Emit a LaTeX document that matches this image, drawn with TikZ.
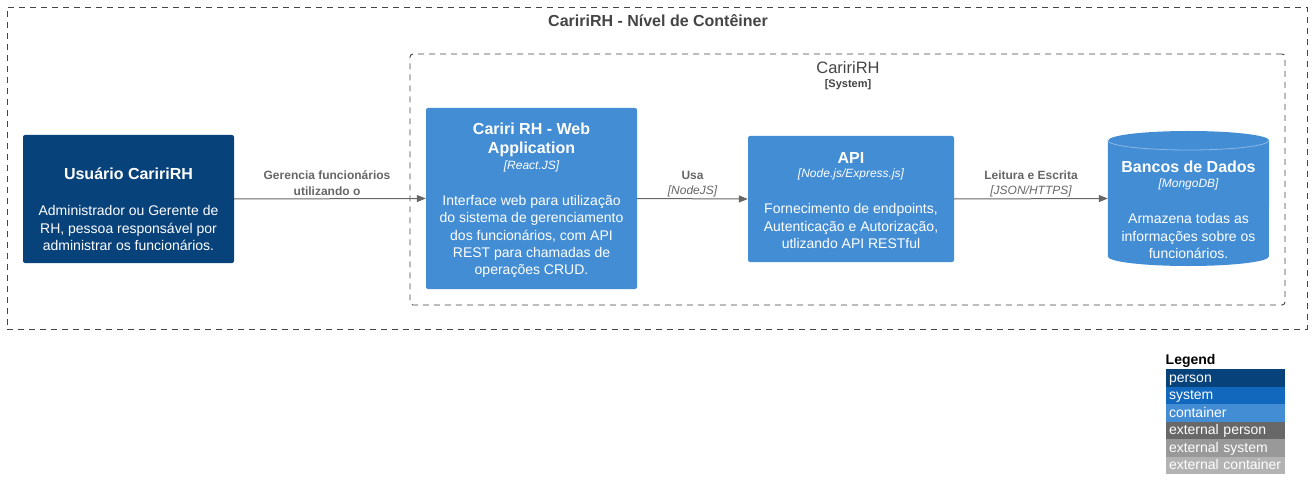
\documentclass[tikz,border=0pt]{standalone}
\usepackage{fontspec}
\setmainfont{Liberation Sans}
\usetikzlibrary{arrows.meta}
\definecolor{cperson}{HTML}{08427B}
\definecolor{csystem}{HTML}{1168BD}
\definecolor{ccont}{HTML}{438DD5}
\definecolor{cextp}{HTML}{686868}
\definecolor{cexts}{HTML}{999999}
\definecolor{cextc}{HTML}{B3B3B3}
\definecolor{cline}{HTML}{666666}
\definecolor{cbound}{HTML}{444444}
\definecolor{cdbedge}{HTML}{8AB8E6}
\newcommand{\fsz}[2]{\fontsize{#1}{#2}\selectfont}
\tikzset{
  boundary/.style={draw=cbound, line width=0.9pt, dash pattern=on 6pt off 5pt},
  elembox/.style={draw=none, rounded corners=2pt, inner sep=0pt},
  eltitle/.style={text=white, font=\fsz{16}{19}\bfseries, align=center, inner sep=0pt},
  eltech/.style={text=white, font=\fsz{12}{14}\itshape, align=center, inner sep=0pt},
  eldesc/.style={text=white, font=\fsz{14}{17.3}, align=center, inner sep=0pt},
  rel/.style={draw=cline, line width=1pt, -{Triangle[length=9pt,width=7pt]}},
  rellab/.style={text=cline, font=\fsz{12}{16}\bfseries, align=center, inner sep=0pt},
  reltech/.style={text=cline, font=\fsz{12}{16}\itshape, align=center, inner sep=0pt},
  legrow/.style={minimum width=119pt, minimum height=17.5pt, inner xsep=3pt, inner ysep=0pt, outer sep=0pt, text width=113pt, align=left, text height=10.5pt, text depth=2pt, anchor=north west, text=white, font=\fsz{14}{15}}
}
\begin{document}
\begin{tikzpicture}[x=1pt,y=-1pt]
\useasboundingbox (0,0) rectangle (1313,497);
% outer boundary
\node[boundary, minimum width=1300pt, minimum height=322pt, inner sep=0pt] (outer) at (657,168) {};
\node[text=cbound, font=\fsz{16}{19}\bfseries, inner sep=0pt] (outertitle) at (658,20.5) {CaririRH - Nível de Contêiner};
% inner boundary
\node[boundary, rounded corners=3pt, minimum width=875pt, minimum height=251pt, inner sep=0pt] (inner) at (847.5,179.5) {};
\node[text=cbound, font=\fsz{16.5}{19}, inner sep=0pt] (innertitle) at (848,67.5) {CaririRH};
\node[text=cbound, font=\fsz{11}{13}\bfseries, inner sep=0pt] (innertype) at (848,85) {[System]};
% person
\node[elembox, fill=cperson, minimum width=211pt, minimum height=128pt] (person) at (128.5,199) {};
\node[eltitle] (persontitle) at (128.5,173.5) {Usuário CaririRH};
\node[eldesc] (persondesc) at (128.5,228) {Administrador ou Gerente de\\RH, pessoa responsável por\\administrar os funcionários.};
% web app
\node[elembox, fill=ccont, minimum width=211pt, minimum height=181pt] (web) at (531.5,198.5) {};
\node[eltitle] (webtitle) at (531.5,140) {Cariri RH - Web\\Application};
\node[eltech] (webtech) at (531.5,166.5) {[React.JS]};
\node[eldesc] (webdesc) at (531.5,236.5) {Interface web para utilização\\do sistema de gerenciamento\\dos funcionários, com API\\REST para chamadas de\\operações CRUD.};
% api
\node[elembox, fill=ccont, minimum width=206pt, minimum height=126pt] (api) at (851,199) {};
\node[eltitle] (apititle) at (851,157.5) {API};
\node[eltech] (apitech) at (851,174.5) {[Node.js/Express.js]};
\node[eldesc] (apidesc) at (851,226) {Fornecimento de endpoints,\\Autenticação e Autorização,\\utlizando API RESTful};
% database
\node[minimum width=161pt, minimum height=135pt, inner sep=0pt] (db) at (1188.5,198.5) {};
\fill[ccont] (db.west |- 0,140.5) -- (db.west |- 0,256.5)
  arc[start angle=180, end angle=360, x radius=80.5pt, y radius=9.5pt]
  -- (db.east |- 0,140.5)
  arc[start angle=0, end angle=180, x radius=80.5pt, y radius=9.5pt] -- cycle;
\draw[cdbedge, line width=0.8pt] (db.west |- 0,140.5) arc[start angle=180, end angle=360, x radius=80.5pt, y radius=9.5pt];
\node[eltitle] (dbtitle) at (1188.5,166.5) {Bancos de Dados};
\node[eltech] (dbtech) at (1188.5,184.5) {[MongoDB]};
\node[eldesc] (dbdesc) at (1188.5,236) {Armazena todas as\\informações sobre os\\funcionários.};
% relations
\draw[rel] (person.east) -- (web.west);
\node[rellab] (l1) at (327,183.5) {Gerencia funcionários\\utilizando o};
\draw[rel] (web.east) -- (api.west);
\node[rellab] (l2) at (692.5,175.5) {Usa};
\node[reltech] (l2t) at (692.5,191.5) {[NodeJS]};
\draw[rel] (api.east) -- (db.west);
\node[rellab] (l3) at (1031,175.5) {Leitura e Escrita};
\node[reltech] (l3t) at (1031,191.5) {[JSON/HTTPS]};
% legend
\node[anchor=west, font=\fsz{14}{16}\bfseries, inner sep=0pt] (legtitle) at (1165.5,361) {Legend};
\node[legrow, fill=cperson] (lg1) at (1166,369) {person};
\node[legrow, fill=csystem] (lg2) at (lg1.south west) {system};
\node[legrow, fill=ccont] (lg3) at (lg2.south west) {container};
\node[legrow, fill=cextp] (lg4) at (lg3.south west) {external person};
\node[legrow, fill=cexts] (lg5) at (lg4.south west) {external system};
\node[legrow, fill=cextc] (lg6) at (lg5.south west) {external container};
\end{tikzpicture}
\end{document}
